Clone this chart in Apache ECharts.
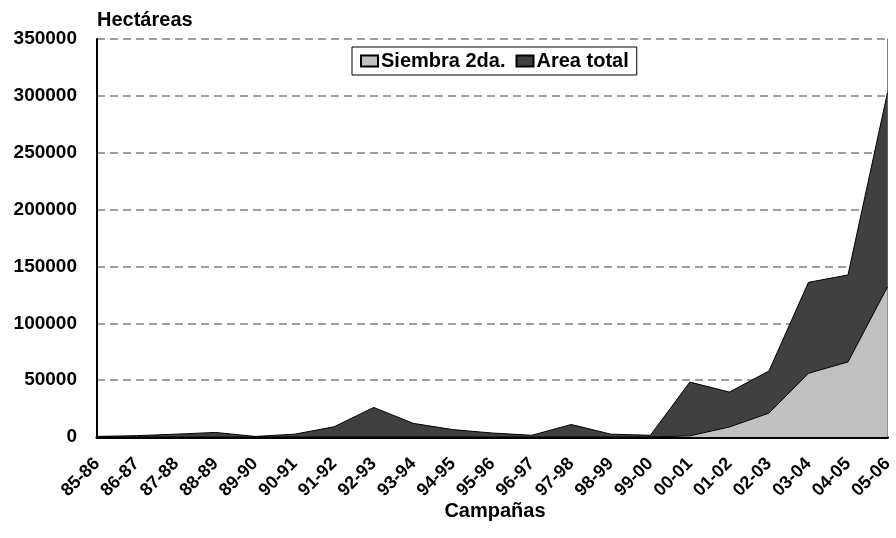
<!DOCTYPE html>
<html>
<head>
<meta charset="utf-8">
<script src="https://cdn.jsdelivr.net/npm/echarts@6/dist/echarts.min.js"></script>
<style>html,body{margin:0;padding:0;background:#fff}#c{width:896px;height:538px}</style>
</head>
<body>
<div id="c"></div>
<script>
const categories = ["85-86","86-87","87-88","88-89","89-90","90-91","91-92","92-93","93-94","94-95","95-96","96-97","97-98","98-99","99-00","00-01","01-02","02-03","03-04","04-05","05-06"];
const areaTotal = [500,1200,2500,4000,500,2500,9000,26000,12000,6500,3500,1500,11000,2500,1500,48300,39500,58000,136000,142500,303000];
const siembra2da = [0,0,0,0,0,0,0,0,0,0,0,0,0,0,0,1000,8800,21000,56000,66000,132000];
const yTicks = [0,50000,100000,150000,200000,250000,300000,350000];

const chart = echarts.init(document.getElementById('c'));
const font = 'Liberation Sans, Arial, sans-serif';
chart.setOption({
  animation: false,
  backgroundColor: '#fff',
  grid: {left: 97, right: 4, top: 39, bottom: 101},
  title: [
    {text: 'Hectáreas', left: 97, top: 10, padding: 0, textStyle: {fontFamily: font, fontSize: 20, fontWeight: 'bold', color: '#000'}},
    {text: 'Campañas', left: 495, textAlign: 'center', top: 501, padding: 0, textStyle: {fontFamily: font, fontSize: 20, fontWeight: 'bold', color: '#000'}}
  ],
  legend: {
    data: ['Siembra 2da.', 'Area total'],
    left: 352, top: 47,
    backgroundColor: '#fff', borderColor: '#000', borderWidth: 1,
    padding: [4, 8, 4, 8],
    itemGap: 10, itemWidth: 17, itemHeight: 11,
    icon: 'rect',
    textStyle: {fontFamily: font, fontSize: 20, fontWeight: 'bold', color: '#000', padding: [0,0,0,-2]}
  },
  xAxis: {
    type: 'category', data: categories, boundaryGap: false,
    axisLine: {lineStyle: {color: '#000', width: 3}},
    axisTick: {show: false},
    axisLabel: {rotate: 45, fontFamily: font, fontSize: 18, fontWeight: 'bold', color: '#000', margin: 24, interval: 0}
  },
  yAxis: [{
    type: 'value', min: 0, max: 350000, interval: 50000,
    axisLine: {show: true, lineStyle: {color: '#000', width: 2}},
    axisTick: {show: false},
    axisLabel: {fontFamily: font, fontSize: 19, fontWeight: 'bold', color: '#000', margin: 20, formatter: v => String(v)},
    splitLine: {lineStyle: {color: '#808080', type: [8, 5], width: 1.5}}
  }, {
    type: 'value', min: 0, max: 350000, interval: 50000, position: 'right',
    axisLine: {show: true, lineStyle: {color: '#808080', width: 1}},
    axisTick: {show: false}, axisLabel: {show: false}, splitLine: {show: false}
  }],
  series: [
    {name: 'Area total', type: 'line', data: areaTotal, symbol: 'none',
     lineStyle: {color: '#000', width: 1}, itemStyle: {color: '#404040', borderColor: '#000', borderWidth: 1},
     areaStyle: {color: '#404040', opacity: 1}},
    {name: 'Siembra 2da.', type: 'line', data: siembra2da, symbol: 'none',
     lineStyle: {color: '#000', width: 1}, itemStyle: {color: '#c0c0c0', borderColor: '#000', borderWidth: 1},
     areaStyle: {color: '#c0c0c0', opacity: 1}}
  ]
});
</script>
</body>
</html>
